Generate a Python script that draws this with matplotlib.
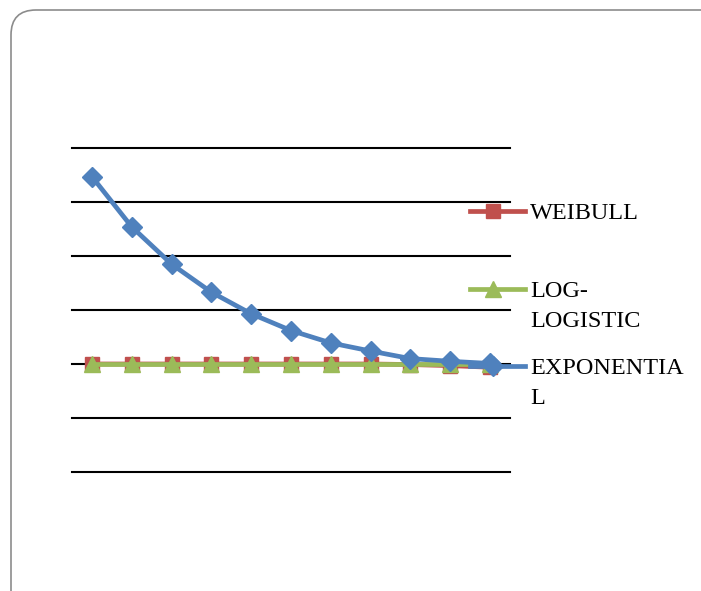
import matplotlib.pyplot as plt
from matplotlib.patches import FancyBboxPatch
from matplotlib.lines import Line2D

# readings from the reference (no axis labels shown, gridlines at 0..6)
points = list(range(1, 12))
exponential = [5.47, 4.54, 3.85, 3.33, 2.93, 2.62, 2.39, 2.24, 2.10, 2.05, 2.01]
weibull = [2.0, 2.0, 2.0, 2.0, 2.0, 2.0, 2.0, 2.0, 1.99, 1.97, 1.94]
loglogistic = [2.0, 2.0, 2.0, 2.0, 2.0, 2.0, 2.0, 2.0, 2.0, 2.0, 2.0]
gridlines = [0, 1, 2, 3, 4, 5, 6]

labels = ['WEIBULL', 'LOG-\nLOGISTIC', 'EXPONENTIA\nL']
colors = ['#C0504D', '#9BBB59', '#4F81BD']
markers = ['s', '^', 'D']
msizes = [10, 11, 10.5]

W, H = 701, 591
fig = plt.figure(figsize=(W / 100, H / 100), dpi=100)
ax = fig.add_axes([72 / W, (H - 472) / H, 438 / W, 324 / H])

# rounded outer border (pixel coords), runs off the right and bottom edges
box = FancyBboxPatch((11, -40), 715, 621, boxstyle='round,pad=0,rounding_size=25',
                     transform=None, facecolor='none', edgecolor='#8c8c8c', lw=1.2)
fig.patches.append(box)

for g in gridlines:
    ax.axhline(g, color='black', lw=1.5, zorder=1, clip_on=False)

series = [weibull, loglogistic, exponential]
for vals, c, m, ms in zip(series, colors, markers, msizes):
    ax.plot(points, vals, color=c, lw=3.4, marker=m, markersize=ms,
            markeredgecolor=c, zorder=3)

ax.set_xlim(0.5, 11.5)
ax.set_ylim(0, 6)
ax.axis('off')

# legend drawn beside the plot, entries at fixed heights
leg_y = [0.806, 0.565, 0.327]
for lab, c, m, ms, y in zip(labels, colors, markers, msizes, leg_y):
    ax.add_line(Line2D([0.909, 1.034], [y, y], transform=ax.transAxes, color=c,
                       lw=3.4, clip_on=False, zorder=4))
    ax.add_line(Line2D([0.961], [y], transform=ax.transAxes, color=c, marker=m,
                       markersize=ms, markeredgecolor=c, clip_on=False, zorder=4))
    ax.annotate(lab, xy=(1.046, y), xycoords='axes fraction', xytext=(0, 5.5),
                textcoords='offset points', va='top', ha='left',
                fontsize=17.5, family='Liberation Serif', linespacing=1.55)

fig.savefig('out.png', dpi=100)
